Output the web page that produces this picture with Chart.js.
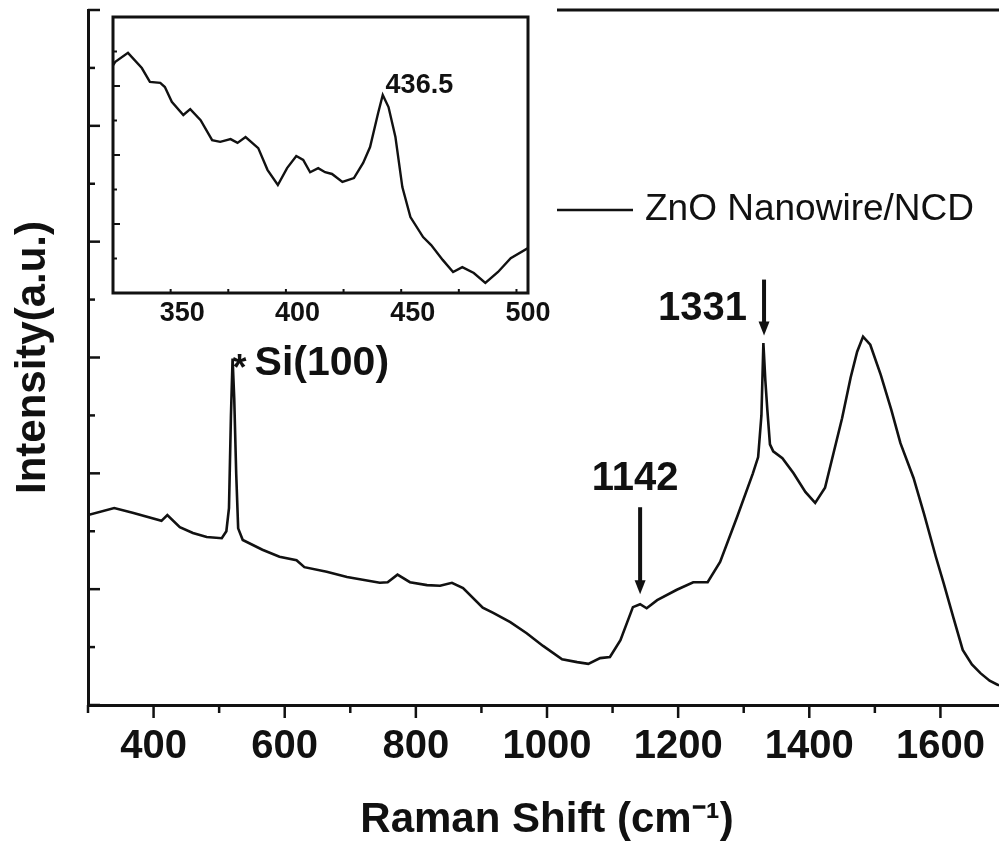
<!DOCTYPE html>
<html>
<head>
<meta charset="utf-8">
<script src="https://cdn.jsdelivr.net/npm/chart.js@4.4.1/dist/chart.umd.min.js"></script>
<style>
  html, body { margin: 0; padding: 0; background: #fff; overflow: hidden; }
  #wrap { position: relative; width: 999px; height: 851px; overflow: hidden; }
  #mainChart { position: absolute; left: 0; top: 0; }
  #insetChart { position: absolute; left: 100px; top: 0; background: #fff; }
</style>
</head>
<body>
<div id="wrap">
  <canvas id="mainChart" width="1010" height="851"></canvas>
  <canvas id="insetChart" width="452" height="335"></canvas>
</div>
<script>
// ---- main spectrum ----
const ramanShift = [300, 340, 368, 412, 421, 440, 460, 481, 504, 511, 515, 518, 520.5, 523, 526,
  529, 536, 566, 592, 618, 630, 664, 695, 745, 757, 772, 791, 817, 837, 855, 872, 902, 918, 944, 969,
  994, 1023, 1046, 1063, 1081, 1096, 1112, 1131, 1142, 1152, 1168, 1198, 1223, 1245, 1264, 1290, 1314,
  1322, 1327, 1330, 1333, 1336, 1340, 1345, 1359, 1376, 1394, 1409, 1424, 1437, 1450, 1463, 1473, 1482,
  1493, 1509, 1525, 1539, 1559, 1575, 1593, 1605, 1620, 1634, 1648, 1661, 1675, 1687, 1700];
const intensity = [3.28, 3.40, 3.32, 3.18, 3.28, 3.07, 2.97, 2.90, 2.88, 3.00, 3.40, 5.00, 5.98, 5.30, 4.00,
  3.05, 2.85, 2.68, 2.56, 2.50, 2.38, 2.30, 2.21, 2.11, 2.12, 2.25, 2.12, 2.07, 2.06, 2.11, 2.02, 1.68, 1.59, 1.43, 1.24,
  1.02, 0.79, 0.74, 0.71, 0.81, 0.83, 1.12, 1.69, 1.74, 1.67, 1.81, 1.99, 2.12, 2.12, 2.47, 3.25, 4.00,
  4.28, 5.00, 6.25, 5.60, 5.10, 4.50, 4.38, 4.26, 4.00, 3.68, 3.49, 3.75, 4.35, 4.95, 5.65, 6.10, 6.36,
  6.22, 5.70, 5.10, 4.52, 3.92, 3.30, 2.56, 2.10, 1.50, 0.95, 0.70, 0.55, 0.42, 0.35, 0.32];
const xTickValues = [400, 600, 800, 1000, 1200, 1400, 1600];
const xMinorStep = 100;
const yTickValues = [0, 1, 2, 3, 4, 5, 6, 7, 8, 9, 10, 11, 12];

// ---- inset: ZnO region ----
const insetShift = [320, 321, 326.5, 332.5, 336, 340.5, 342.5, 345.5, 350.5, 353.5, 358, 363, 366.5, 371, 374,
  377.5, 383, 387, 391.5, 395.5, 399.5, 402.5, 405.5, 409, 412, 415, 419.5, 424.5, 428.5, 431.5, 435, 437,
  439.5, 442.5, 445.5, 449, 454.5, 458, 463, 467.5, 471.5, 476.5, 481.5, 487, 492.5, 500];
const insetIntensity = [6.60, 6.70, 6.96, 6.52, 6.12, 6.09, 5.97, 5.54, 5.16, 5.33, 5.01, 4.43, 4.38, 4.46, 4.35,
  4.52, 4.20, 3.57, 3.13, 3.62, 3.97, 3.86, 3.50, 3.62, 3.50, 3.45, 3.22, 3.33, 3.77, 4.23, 5.22, 5.74,
  5.39, 4.52, 3.07, 2.20, 1.62, 1.39, 0.96, 0.61, 0.75, 0.58, 0.29, 0.61, 1.01, 1.30];
const insetTickValues = [350, 400, 450, 500];
const insetMinorStep = 25;
const insetYTicks = [1, 2, 3, 4, 5, 6, 7];

// ---- labels ----
const seriesName = 'ZnO Nanowire/NCD';
const siLabel = 'Si(100)';
const siShift = 520.5;
const peakLabels = ['1142', '1331'];
const peakShifts = [1142, 1331];
const insetPeakLabel = '436.5';
const insetPeakShift = 436.5;

const FONT = '"Liberation Sans", Arial, sans-serif';
const INK = '#111';

function valueAt(xs, ys, x) {
  for (let i = 1; i < xs.length; i++) {
    if (x <= xs[i]) {
      const t = (x - xs[i - 1]) / (xs[i] - xs[i - 1]);
      return ys[i - 1] + t * (ys[i] - ys[i - 1]);
    }
  }
  return ys[ys.length - 1];
}

function line(ctx, x1, y1, x2, y2) {
  ctx.beginPath(); ctx.moveTo(x1, y1); ctx.lineTo(x2, y2); ctx.stroke();
}

function downArrow(ctx, x, yTail, yTip) {
  ctx.lineWidth = 4;
  line(ctx, x, yTail, x, yTip - 10);
  ctx.beginPath();
  ctx.moveTo(x - 5.5, yTip - 14);
  ctx.lineTo(x + 5.5, yTip - 14);
  ctx.lineTo(x, yTip);
  ctx.closePath();
  ctx.fill();
}

const mainDecor = {
  id: 'mainDecor',
  afterDraw(chart) {
    const ctx = chart.ctx, xs = chart.scales.x, ys = chart.scales.y, area = chart.chartArea;
    ctx.save();
    ctx.strokeStyle = INK; ctx.fillStyle = INK; ctx.lineCap = 'butt';

    // y ticks, pointing inward
    ctx.lineWidth = 2.5;
    yTickValues.forEach(v => {
      const py = ys.getPixelForValue(v);
      line(ctx, area.left, py, area.left + (v % 2 === 0 ? 12 : 7), py);
    });
    // x ticks, pointing outward
    for (let v = xs.min; v <= xs.max; v += xMinorStep) {
      const px = xs.getPixelForValue(v);
      line(ctx, px, area.bottom, px, area.bottom + (xTickValues.includes(v) ? 13 : 8));
    }

    // legend
    const legX = 557, legY = 210;
    ctx.lineWidth = 3;
    line(ctx, legX, area.top, area.right, area.top);
    ctx.lineWidth = 2.6;
    line(ctx, legX, legY, legX + 76, legY);
    ctx.font = '37px ' + FONT;
    ctx.textAlign = 'left'; ctx.textBaseline = 'middle';
    ctx.fillText(seriesName, legX + 88, legY);

    // Si(100) mark
    const sx = xs.getPixelForValue(siShift);
    const sy = ys.getPixelForValue(valueAt(ramanShift, intensity, siShift));
    ctx.font = 'bold 36px ' + FONT;
    ctx.textAlign = 'center'; ctx.textBaseline = 'alphabetic';
    ctx.fillText('*', sx + 7, sy + 21);
    ctx.font = 'bold 41px ' + FONT;
    ctx.textAlign = 'left'; ctx.textBaseline = 'middle';
    ctx.fillText(siLabel, sx + 22, sy + 5);

    // 1142 arrow, label above
    let px = xs.getPixelForValue(peakShifts[0]);
    let py = ys.getPixelForValue(valueAt(ramanShift, intensity, peakShifts[0]));
    downArrow(ctx, px, py - 97, py - 10);
    ctx.font = 'bold 40px ' + FONT;
    ctx.textAlign = 'center'; ctx.textBaseline = 'middle';
    ctx.fillText(peakLabels[0], px - 5, py - 125);

    // 1331 arrow, label at left
    px = xs.getPixelForValue(peakShifts[1]);
    py = ys.getPixelForValue(valueAt(ramanShift, intensity, peakShifts[1]));
    downArrow(ctx, px, py - 76, py - 20);
    ctx.textAlign = 'right';
    ctx.fillText(peakLabels[1], px - 17, py - 47);
    ctx.restore();
  }
};

new Chart(document.getElementById('mainChart'), {
  type: 'line',
  data: {
    datasets: [{
      label: seriesName,
      data: ramanShift.map((x, i) => ({ x: x, y: intensity[i] })),
      borderColor: INK, borderWidth: 2.6, pointRadius: 0, tension: 0, fill: false
    }]
  },
  options: {
    responsive: false, animation: false, events: [],
    layout: { padding: { left: 0, top: 10, right: 4, bottom: 0 } },
    plugins: { legend: { display: false }, tooltip: { enabled: false } },
    scales: {
      x: {
        type: 'linear', min: 300, max: 1700,
        afterBuildTicks: s => { s.ticks = xTickValues.map(v => ({ value: v })); },
        afterFit: s => { s.height = 146; s.paddingLeft = 0; s.paddingRight = 0; },
        grid: { display: false, drawTicks: false },
        border: { display: true, color: INK, width: 3 },
        ticks: { color: INK, padding: 18, maxRotation: 0, autoSkip: false,
                 callback: v => String(v),
                 font: { family: FONT, size: 40, weight: 'bold' } },
        title: { display: true, text: 'Raman Shift (cm\u207B\u00B9)', color: INK,
                 padding: { top: 0, bottom: 5 }, font: { family: FONT, size: 42, weight: 'bold' } }
      },
      y: {
        min: 0, max: 12,
        afterFit: s => { s.width = 88; s.paddingTop = 0; s.paddingBottom = 0; },
        ticks: { display: false },
        grid: { display: false, drawTicks: false },
        border: { display: true, color: INK, width: 3 },
        title: { display: true, text: 'Intensity(a.u.)', color: INK,
                 padding: { top: 8, bottom: 0 }, font: { family: FONT, size: 42, weight: 'bold' } }
      }
    }
  },
  plugins: [mainDecor]
});

const insetDecor = {
  id: 'insetDecor',
  afterDraw(chart) {
    const ctx = chart.ctx, xs = chart.scales.x, ys = chart.scales.y, area = chart.chartArea;
    ctx.save();
    ctx.strokeStyle = INK; ctx.fillStyle = INK;
    ctx.lineWidth = 3;
    ctx.strokeRect(area.left, area.top, area.right - area.left, area.bottom - area.top);
    ctx.lineWidth = 2;
    for (let v = xs.min + insetMinorStep; v < xs.max; v += insetMinorStep) {
      const px = xs.getPixelForValue(v);
      line(ctx, px, area.bottom, px, area.bottom - (insetTickValues.includes(v) ? 7 : 4));
    }
    insetYTicks.forEach(v => {
      const py = ys.getPixelForValue(v);
      line(ctx, area.left, py, area.left + (v % 2 === 0 ? 7 : 4), py);
    });
    const px = xs.getPixelForValue(insetPeakShift);
    const py = ys.getPixelForValue(valueAt(insetShift, insetIntensity, insetPeakShift));
    ctx.font = 'bold 27px ' + FONT;
    ctx.textAlign = 'left'; ctx.textBaseline = 'middle';
    ctx.fillText(insetPeakLabel, px + 4, py - 14);
    ctx.restore();
  }
};

new Chart(document.getElementById('insetChart'), {
  type: 'line',
  data: {
    datasets: [{
      label: seriesName,
      data: insetShift.map((x, i) => ({ x: x, y: insetIntensity[i] })),
      borderColor: INK, borderWidth: 2.4, pointRadius: 0, tension: 0, fill: false
    }]
  },
  options: {
    responsive: false, animation: false, events: [],
    layout: { padding: { left: 0, top: 17, right: 24, bottom: 0 } },
    plugins: { legend: { display: false }, tooltip: { enabled: false } },
    scales: {
      x: {
        type: 'linear', min: 320, max: 500,
        afterBuildTicks: s => { s.ticks = insetTickValues.map(v => ({ value: v })); },
        afterFit: s => { s.height = 42; s.paddingLeft = 0; s.paddingRight = 0; },
        grid: { display: false, drawTicks: false },
        border: { display: false },
        ticks: { color: INK, padding: 4, maxRotation: 0, autoSkip: false,
                 callback: v => String(v),
                 font: { family: FONT, size: 27, weight: 'bold' } }
      },
      y: {
        min: 0, max: 8,
        afterFit: s => { s.width = 13; s.paddingTop = 0; s.paddingBottom = 0; },
        ticks: { display: false },
        grid: { display: false, drawTicks: false },
        border: { display: false }
      }
    }
  },
  plugins: [insetDecor]
});
</script>
</body>
</html>
